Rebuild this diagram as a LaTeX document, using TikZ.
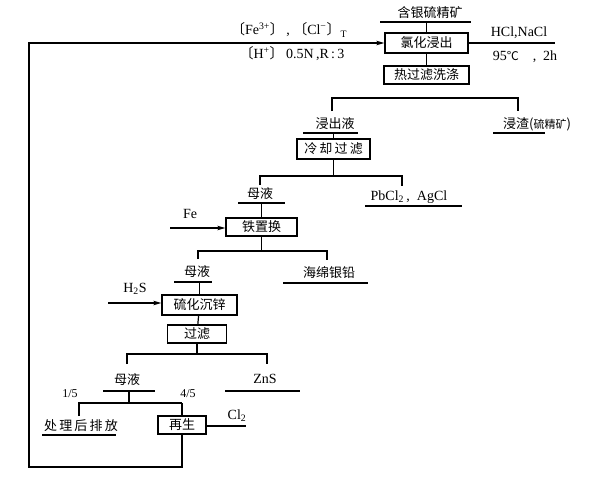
\documentclass[tikz,border=0pt]{standalone}
\usepackage{fontspec}
\setmainfont{Liberation Serif}
\newfontfamily\cjk{Noto Sans CJK SC}
\usetikzlibrary{arrows.meta}
\begin{document}
\begin{tikzpicture}[x=1pt,y=-1pt,
  ln/.style={line width=1.2pt},
  arr/.style={line width=1.2pt,-{Stealth[length=8pt,width=4.5pt,inset=2pt]}},
  box/.style={draw,line width=1.3pt,inner sep=0pt,font=\cjk\fontsize{13}{13}\selectfont},
  lab/.style={inner sep=0pt,font=\cjk\fontsize{13}{13}\selectfont},
  lat/.style={inner sep=0pt,font=\fontsize{14}{14}\selectfont},
  frac/.style={inner sep=0pt,font=\fontsize{12}{12}\selectfont}]
\useasboundingbox (0,0) rectangle (600,482);
% top
\node[lab] (ore) at (430,13) {含银硫精矿};
\coordinate (oreL) at (380,22); \coordinate (oreR) at (471,22);
\draw[ln] (oreL) -- (oreR);
\node[box,minimum width=83pt,minimum height=20pt] (leach) at (426.5,43) {氯化浸出};
\draw[ln] (leach.north |- oreL) -- (leach.north);
\node[box,minimum width=85pt,minimum height=18pt] (hotf) at (426.5,75) {热过滤洗涤};
\draw[ln] (leach) -- (hotf);
\coordinate (hclE) at (555,43);
\draw[ln] (leach.east) -- (hclE);
\node[lat] (hcl) at (519,33) {HCl,NaCl};
\node[lat] (cond) at (525,57) {95{\cjk\fontsize{12}{12}\selectfont ℃}\ \ \ \ ,\ \ 2h};
\node[lat] (fe3) at (289,30) {{\cjk 〔}Fe\textsuperscript{3+}{\cjk 〕}\,,\ {\cjk 〔}Cl\textsuperscript{−}{\cjk 〕}\textsubscript{T}};
\node[lat] (hplus) at (292,54) {{\cjk 〔}H\textsuperscript{+}{\cjk 〕}\,0.5N\,,R\,:\,3};
% branch 1
\coordinate (b1L) at (332,98); \coordinate (b1R) at (518,98);
\draw[ln] ([yshift=-13pt]b1L) -- (b1L) -- (b1R) -- ([yshift=-13pt]b1R);
\node[lab] (liq1) at (335,124) {浸出液};
\coordinate (u1L) at (303,133); \coordinate (u1R) at (358,133);
\draw[ln] (u1L) -- (u1R);
\node[lab] (resid) at (537,124) {浸渣({\fontsize{11}{11}\selectfont 硫精矿})};
\coordinate (u2L) at (493,133); \coordinate (u2R) at (545,133);
\draw[ln] (u2L) -- (u2R);
\node[box,minimum width=73pt,minimum height=20pt] (cool) at (333.5,149) {冷\,却\,过\,滤};
\draw[ln] (cool.north |- u1L) -- (cool.north);
% branch 2
\coordinate (b2L) at (260,176); \coordinate (b2R) at (402,176);
\draw[ln] (cool.south) -- (cool.south |- b2L);
\draw[ln] ([yshift=-9pt]b2L) -- (b2L) -- (b2R) -- ([yshift=-10pt]b2R);
\node[lab] (liq2) at (260,194) {母液};
\coordinate (u3L) at (238,203); \coordinate (u3R) at (285,203);
\draw[ln] (u3L) -- (u3R);
\node[lat] (pbcl) at (409,197) {PbCl\textsubscript{2}\,,\ \ AgCl};
\coordinate (u4L) at (365,206); \coordinate (u4R) at (462,206);
\draw[ln] (u4L) -- (u4R);
\node[box,minimum width=71pt,minimum height=18pt] (iron) at (261.5,227) {铁置换};
\draw[ln] (iron.north |- u3L) -- (iron.north);
\node[lat] (fe) at (190,214) {Fe};
\coordinate (feS) at (170,228);
\draw[arr] (feS) -- (iron.west |- feS);
% branch 3
\coordinate (b3L) at (198,251); \coordinate (b3R) at (327,251);
\draw[ln] (iron.south) -- (iron.south |- b3L);
\draw[ln] ([yshift=-8pt]b3L) -- (b3L) -- (b3R) -- ([yshift=-9pt]b3R);
\node[lab] (liq3) at (197,272) {母液};
\coordinate (u5L) at (174,282); \coordinate (u5R) at (212,282);
\draw[ln] (u5L) -- (u5R);
\node[lab] (sponge) at (329,273) {海绵银铅};
\coordinate (u6L) at (283,283); \coordinate (u6R) at (368,283);
\draw[ln] (u6L) -- (u6R);
\node[box,minimum width=75pt,minimum height=20pt] (zinc) at (199.5,305) {硫化沉锌};
\draw[ln] (zinc.north |- u5L) -- (zinc.north);
\node[lat] (h2s) at (135,289) {H\textsubscript{2}S};
\coordinate (h2sS) at (108,303);
\draw[arr] (h2sS) -- (zinc.west |- h2sS);
\node[box,minimum width=59pt,minimum height=18pt] (filt) at (197,334) {过滤};
\draw[ln] (zinc) -- (filt);
% branch 4
\coordinate (b4L) at (127,354); \coordinate (b4R) at (267,354);
\draw[ln] (filt.south) -- (filt.south |- b4L);
\draw[ln] ([yshift=-10pt]b4L) -- (b4L) -- (b4R) -- ([yshift=-10pt]b4R);
\node[lab] (liq4) at (127,380) {母液};
\coordinate (u7L) at (103,391); \coordinate (u7R) at (155,391);
\draw[ln] (u7L) -- (u7R);
\node[lat] (zns) at (265,379) {ZnS};
\coordinate (u8L) at (225,391); \coordinate (u8R) at (300,391);
\draw[ln] (u8L) -- (u8R);
% branch 5
\coordinate (s5) at (129,391); \coordinate (b5) at (129,403);
\coordinate (b5L) at (79,403); \coordinate (b5R) at (182,403);
\draw[ln] (s5) -- (b5);
\draw[ln] ([yshift=-13pt]b5L) -- (b5L) -- (b5R);
\node[frac] (f1) at (70,394) {1/5};
\node[frac] (f4) at (188,394) {4/5};
\node[lab] (disp) at (81,426) {处\,理\,后\,排\,放};
\coordinate (u9L) at (42,435); \coordinate (u9R) at (116,435);
\draw[ln] (u9L) -- (u9R);
\node[box,minimum width=48pt,minimum height=18pt] (regen) at (182,425) {再生};
\draw[ln] (b5R) -- (regen.north);
\coordinate (clE) at (246,426);
\draw[ln] (regen.east |- clE) -- (clE);
\node[lat] (cl2) at (237,416) {Cl\textsubscript{2}};
% return loop
\coordinate (rb) at (182,467); \coordinate (lb) at (29,467); \coordinate (lt) at (29,43);
\draw[arr] (regen.south) -- (rb) -- (lb) -- (lt) -- (leach.west);
\end{tikzpicture}
\end{document}
